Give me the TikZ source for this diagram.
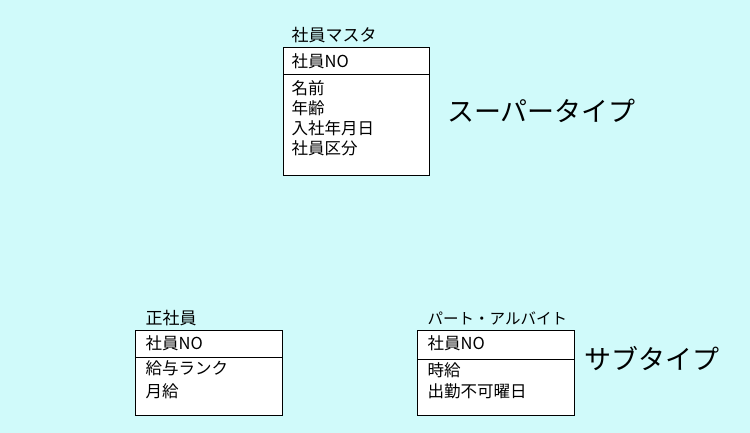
\documentclass[tikz,border=0pt]{standalone}
\usepackage{fontspec}
\setmainfont{Noto Sans CJK JP}
\definecolor{bgcyan}{RGB}{208,250,250}
\tikzset{
  entbox/.style={draw=black, fill=white, line width=1pt},
  sepline/.style={draw=black, line width=1pt},
  rowtext/.style={anchor=west, inner sep=0pt, font=\fontsize{16.5}{18}\selectfont},
  titletext/.style={anchor=west, inner sep=0pt, font=\fontsize{17}{18}\selectfont},
  bigtext/.style={anchor=west, inner sep=0pt, font=\fontsize{27}{28}\selectfont}
}
\begin{document}
\begin{tikzpicture}[x=1pt,y=-1pt]
\fill[bgcyan] (0,0) rectangle (750,433);
\useasboundingbox (0,0) rectangle (750,433);
% super type
\node[titletext] (t1) at (291.5,35) {社員マスタ};
\draw[entbox] (283,48) rectangle (429,175.5);
\coordinate (s1a) at (283,75);
\coordinate (s1b) at (429,75);
\draw[sepline] (s1a) -- (s1b);
\node[rowtext] (r11) at (291.5,61.5) {社員NO};
\node[rowtext] (r12) at (291.5,88) {名前};
\node[rowtext] (r13) at (291.5,108) {年齢};
\node[rowtext] (r14) at (291.5,128) {入社年月日};
\node[rowtext] (r15) at (291.5,148.5) {社員区分};
\node[bigtext] (sup) at (447,111) {スーパータイプ};
% sub type 1
\node[titletext] (t2) at (145.5,318) {正社員};
\draw[entbox] (135,330) rectangle (282,415);
\coordinate (s2a) at (135,357.5);
\coordinate (s2b) at (282,357.5);
\draw[sepline] (s2a) -- (s2b);
\node[rowtext] (r21) at (145.5,343) {社員NO};
\node[rowtext] (r22) at (145.5,368.5) {給与ランク};
\node[rowtext] (r23) at (145.5,391.5) {月給};
% sub type 2
\node[titletext, font=\fontsize{15.5}{18}\selectfont] (t3) at (427.5,318) {パート・アルバイト};
\draw[entbox] (417.5,330.5) rectangle (574.5,415);
\coordinate (s3a) at (417.5,359);
\coordinate (s3b) at (574.5,359);
\draw[sepline] (s3a) -- (s3b);
\node[rowtext] (r31) at (427.5,343) {社員NO};
\node[rowtext] (r32) at (427.5,370) {時給};
\node[rowtext] (r33) at (427.5,391.5) {出勤不可曜日};
\node[bigtext] (sub) at (584,359) {サブタイプ};
\end{tikzpicture}
\end{document}
